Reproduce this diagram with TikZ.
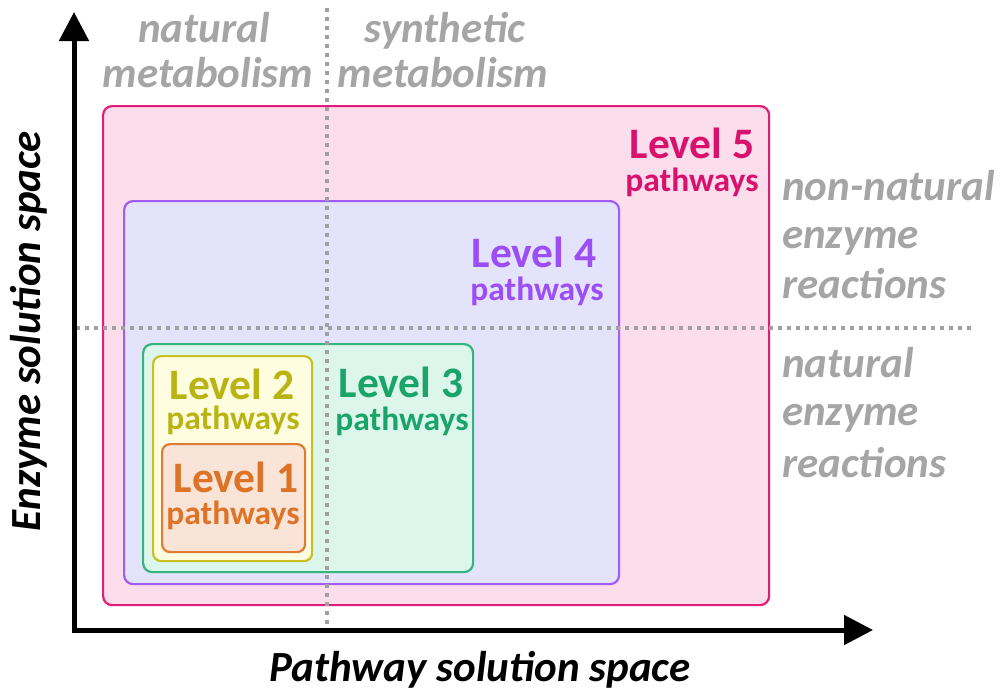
\documentclass[tikz,border=0pt]{standalone}
\usepackage{fontspec}
\setmainfont{Carlito}
\usetikzlibrary{arrows.meta}
\definecolor{pinkfill}{HTML}{FCDDEC}
\definecolor{pinkline}{HTML}{E31C79}
\definecolor{pinktext}{HTML}{D9116E}
\definecolor{lavfill}{HTML}{E3E3FB}
\definecolor{lavline}{HTML}{A15CF7}
\definecolor{lavtext}{HTML}{9D4DF6}
\definecolor{grnfill}{HTML}{DDF6EC}
\definecolor{grnline}{HTML}{33B57D}
\definecolor{grntext}{HTML}{1BA46A}
\definecolor{yelfill}{HTML}{FFFDE0}
\definecolor{yelline}{HTML}{C9BE22}
\definecolor{yeltext}{HTML}{B9B414}
\definecolor{orafill}{HTML}{FAE3D7}
\definecolor{oraline}{HTML}{E07B33}
\definecolor{oratext}{HTML}{DD7326}
\definecolor{graytxt}{HTML}{A5A5A5}
\definecolor{dotgray}{HTML}{A0A0A0}
\tikzset{
  lvlbox/.style={draw, line width=2.2pt, rounded corners=9pt, inner sep=0pt, anchor=north west},
  lvltext/.style={font=\fontsize{43.5}{46}\selectfont\bfseries, anchor=base, inner sep=0pt, text height=0.64em, text depth=0pt},
  pwtext/.style={font=\fontsize{33.5}{36}\selectfont\bfseries, anchor=base, inner sep=0pt, text height=0.7em, text depth=0.2em},
  graylabel/.style={font=\fontsize{43}{46}\selectfont\bfseries\itshape, text=graytxt, inner sep=0pt, text height=0.7em, text depth=0.2em},
  axislabel/.style={font=\fontsize{43}{46}\selectfont\bfseries\itshape, text=black, inner sep=0pt, text height=0.7em, text depth=0.2em},
  divider/.style={draw=dotgray, line width=4pt, dash pattern=on 4pt off 5pt},
  axis/.style={draw=black, line width=5pt, -{Triangle[length=29pt,width=29pt]}}
}
\begin{document}
\begin{tikzpicture}[x=1pt,y=-1pt]
\useasboundingbox (0,0) rectangle (1000,691);
% level boxes
\node[lvlbox, fill=pinkfill, draw=pinkline, minimum width=666pt, minimum height=499pt] (b5) at (102,105) {};
\node[lvlbox, fill=lavfill, draw=lavline, minimum width=495pt, minimum height=383pt] (b4) at (123,200) {};
\node[lvlbox, fill=grnfill, draw=grnline, minimum width=330pt, minimum height=228pt] (b3) at (142,343) {};
\node[lvlbox, fill=yelfill, draw=yelline, minimum width=159pt, minimum height=205pt, rounded corners=8pt] (b2) at (152,355) {};
\node[lvlbox, fill=orafill, draw=oraline, minimum width=143pt, minimum height=108pt, rounded corners=8pt] (b1) at (161,443) {};
% dotted dividers
\coordinate (vtop) at (327,8);
\coordinate (vbot) at (327,626);
\coordinate (hleft) at (76,328);
\coordinate (hright) at (972,328);
\draw[divider] (vtop) -- (vbot);
\draw[divider] (hleft) -- (hright);
% axes
\coordinate (origin) at (74,630);
\coordinate (ytip) at (74,12);
\coordinate (xtip) at (873,630);
\draw[axis] (origin) ++(0,2.5) -- (ytip);
\draw[axis] (origin) ++(-2.5,0) -- (xtip);
% level labels
\node[lvltext, text=pinktext] (l5) at (692,158) {Level 5};
\node[pwtext, text=pinktext] (p5) at (692,191) {pathways};
\node[lvltext, text=lavtext] (l4) at (534,267) {Level 4};
\node[pwtext, text=lavtext] (p4) at (537,300) {pathways};
\node[lvltext, text=grntext] (l3) at (401,397) {Level 3};
\node[pwtext, text=grntext] (p3) at (402,430) {pathways};
\node[lvltext, text=yeltext] (l2) at (232,399) {Level 2};
\node[pwtext, text=yeltext] (p2) at (233,429) {pathways};
\node[lvltext, text=oratext] (l1) at (236,492) {Level 1};
\node[pwtext, text=oratext] (p1) at (233,524) {pathways};
% gray labels
\node[graylabel, anchor=base] (nat1) at (204,42) {natural};
\node[graylabel, anchor=base] (met1) at (208,87) {metabolism};
\node[graylabel, anchor=base] (syn) at (445,42) {synthetic};
\node[graylabel, anchor=base] (met2) at (443,87) {metabolism};
\node[graylabel, anchor=base west] (nn) at (782,200) {non-natural};
\node[graylabel, anchor=base west] (enz1) at (782,248) {enzyme};
\node[graylabel, anchor=base west] (rea1) at (782,298) {reactions};
\node[graylabel, anchor=base west] (nat2) at (782,377) {natural};
\node[graylabel, anchor=base west] (enz2) at (782,425) {enzyme};
\node[graylabel, anchor=base west] (rea2) at (782,477) {reactions};
% axis labels
\node[axislabel, anchor=base] (xlab) at (480,681) {Pathway solution space};
\node[axislabel, anchor=base, rotate=90] (ylab) at (40,331) {Enzyme solution space};
\end{tikzpicture}
\end{document}
